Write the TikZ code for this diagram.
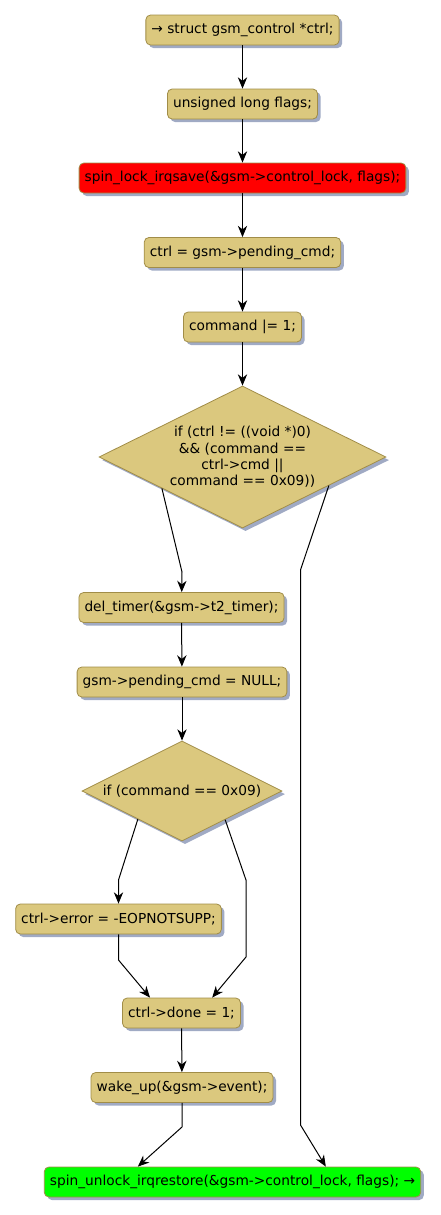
\documentclass[tikz,border=0pt]{standalone}
\usepackage{fontspec}
\setmainfont{DejaVu Sans}
\usepackage{tikz}
\usetikzlibrary{arrows.meta,shapes.geometric,shadows,calc}

\definecolor{actfill}{RGB}{219,200,126}
\definecolor{actline}{RGB}{161,141,72}
\definecolor{actshadow}{RGB}{160,170,196}

\begin{document}
\begin{tikzpicture}[x=0.75pt, y=-0.75pt,
        act/.style={draw=actline, fill=actfill, rounded corners=3.5pt, minimum height=22.5pt,
            inner xsep=4.2pt, inner ysep=0pt, line width=0.6pt, font=\fontsize{10.3}{12.2}\selectfont,
            drop shadow={shadow xshift=2.3pt, shadow yshift=-2.3pt, fill=actshadow, opacity=1}},
        decision/.style={act, shape=diamond, rounded corners=0pt, aspect=2, inner sep=0pt, align=center},
        flow/.style={draw, line width=0.75pt, -{Stealth[length=8.5pt, width=7pt, inset=2.7pt]}}]
        \useasboundingbox (0,0) rectangle (440,1215);

            \node[act] (ctrl) at (242.5,30) {→ struct gsm\_control *ctrl;};
            \node[act] (flags) at (242.5,104) {unsigned long flags;};
            \node[act, fill=red] (lock) at (242.5,178) {spin\_lock\_irqsave(\&gsm->control\_lock, flags);};
            \node[act] (pend) at (242.5,252.5) {ctrl = gsm->pending\_cmd;};
            \node[act] (cmd) at (242.5,327) {command |= 1;};
            \node[decision, minimum width=215.25pt, minimum height=106.5pt] (check) at (242.5,457)
                {if (ctrl != ((void *)0)\\ \&\& (command ==\\ ctrl->cmd ||\\ command == 0x09))};
            \node[act] (deltimer) at (181.5,607.5) {del\_timer(\&gsm->t2\_timer);};
            \node[act] (null) at (182,682) {gsm->pending\_cmd = NULL;};
            \node[decision, minimum width=150pt, minimum height=75pt] (is9) at (182,791) {if (command == 0x09)};
            \node[act] (err) at (118.5,919) {ctrl->error = -EOPNOTSUPP;};
            \node[act] (done) at (181.5,1013) {ctrl->done = 1;};
            \node[act] (wake) at (182,1087.5) {wake\_up(\&gsm->event);};
            \node[act, fill=green] (unlock) at (232.5,1182) {spin\_unlock\_irqrestore(\&gsm->control\_lock, flags); →};

            \draw[flow] (ctrl) -- (flags);
            \draw[flow] (flags) -- (lock);
            \draw[flow] (lock) -- (pend);
            \draw[flow] (pend) -- (cmd);
            \draw[flow] (cmd) -- (check);
            \draw[flow] ($(check.west)!0.44!(check.south)$) -- (182,572) -- (deltimer);
            \draw[flow] ($(check.east)!0.40!(check.south)$) -- (300.5,570) -- (300.5,1125) -- ([xshift=70pt]unlock.north);
            \draw[flow] (deltimer) -- (null);
            \draw[flow] (null) -- (is9);
            \draw[flow] ($(is9.west)!0.56!(is9.south)$) -- (118.5,880) -- (err);
            \draw[flow] ($(is9.east)!0.57!(is9.south)$) -- (246,880) -- (246,957) -- ([xshift=23pt]done.north);
            \draw[flow] (err.south) -- (118.5,960) -- ([xshift=-23.6pt]done.north);
            \draw[flow] (done) -- (wake);
            \draw[flow] (wake.south) -- (182,1127) -- ([xshift=-71pt]unlock.north);
\end{tikzpicture}
\end{document}
